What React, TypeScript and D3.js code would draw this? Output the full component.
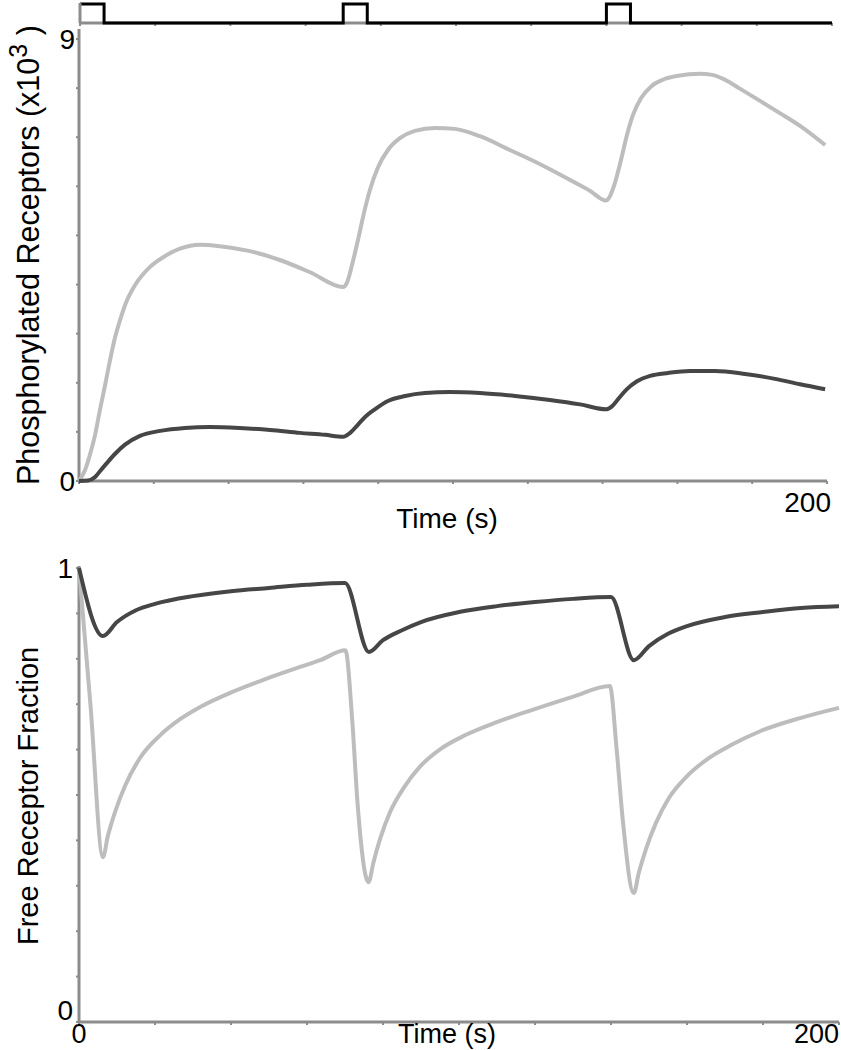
import React from "react";
import * as d3 from "d3";

// ---------- DATA ----------
// stimulus step train (time s, level)
const stimTimes = [0, 6.4, 70, 76.4, 140, 146.4, 200];
const stimLevels = [1, 0, 1, 0, 1, 0, 0];

// Phosphorylated receptors (x10^3), light series [time, value]
const phosLight: [number, number][] = [
  [0, 0], [1.6, 0.22], [2.9, 0.53], [4.3, 0.94], [5.6, 1.45], [7.0, 1.96], [8.3, 2.46], [9.6, 2.91],
  [11.0, 3.28], [12.3, 3.58], [15.0, 3.99], [19.0, 4.36], [23.0, 4.58], [27.0, 4.73], [32.4, 4.81],
  [37.7, 4.78], [45.7, 4.68], [53.7, 4.5], [61.8, 4.25], [70.6, 3.95],
  [71.7, 4.05], [73.0, 4.4], [74.6, 4.91], [76.2, 5.46], [77.8, 5.93], [79.9, 6.38], [82.6, 6.74],
  [85.8, 6.98], [89.8, 7.13], [95.2, 7.19], [100.5, 7.17], [107.2, 7.02], [115.2, 6.74], [123.3, 6.45],
  [131.3, 6.13], [136.6, 5.91], [140.9, 5.71],
  [141.9, 5.79], [143.3, 6.07], [144.9, 6.53], [146.5, 7.04], [148.1, 7.45], [150.3, 7.8], [152.9, 8.03],
  [156.1, 8.17], [160.2, 8.25], [166.0, 8.29], [169.3, 8.27], [172.7, 8.17], [176.7, 7.99], [182.1, 7.74],
  [187.4, 7.49], [192.8, 7.23], [199.5, 6.84],
];

// Phosphorylated receptors (x10^3), dark series
const phosDark: [number, number][] = [
  [0, 0], [2.4, 0.01], [4.3, 0.08], [5.6, 0.2], [7.5, 0.37], [9.6, 0.55], [12.3, 0.74], [16.3, 0.92],
  [21.7, 1.02], [28.3, 1.08], [35.0, 1.1], [43.0, 1.08], [51.1, 1.04], [59.1, 0.98], [65.8, 0.94], [70.6, 0.9],
  [72.5, 0.98], [74.6, 1.15], [76.7, 1.32], [79.1, 1.46], [82.6, 1.63], [87.2, 1.73], [92.5, 1.79], [99.2, 1.81],
  [107.2, 1.79], [116.6, 1.73], [125.9, 1.65], [134.0, 1.56], [140.9, 1.46],
  [142.5, 1.52], [144.4, 1.69], [146.5, 1.87], [149.2, 2.03], [152.7, 2.14], [157.5, 2.2], [163.4, 2.24],
  [170.1, 2.24], [178.1, 2.18], [186.1, 2.08], [192.8, 1.97], [199.5, 1.87],
];

// Free receptor fraction, light series
const freeLight: [number, number][] = [
  [0, 1.0], [3, 0.7], [6.3, 0.363], [7.6, 0.41], [9.5, 0.463], [12.1, 0.52], [16.1, 0.582], [21.4, 0.632],
  [26.6, 0.667], [31.9, 0.694], [39.8, 0.725], [47.7, 0.751], [58.2, 0.782], [63.5, 0.797], [70.1, 0.819],
  [71.9, 0.665], [73.3, 0.482], [76.2, 0.308], [77.5, 0.352], [79.3, 0.405], [81.9, 0.463], [85.4, 0.515],
  [89.9, 0.564], [95.1, 0.601], [101.7, 0.632], [110.1, 0.661], [119.9, 0.689], [129.9, 0.716], [139.7, 0.74],
  [141.5, 0.599], [143.1, 0.445], [146.0, 0.284], [147.3, 0.328], [149.2, 0.381], [151.8, 0.438],
  [155.2, 0.493], [159.7, 0.539], [165.0, 0.577], [171.6, 0.61], [179.4, 0.641], [190.0, 0.67], [200, 0.692],
];

// Free receptor fraction, dark series
const freeDark: [number, number][] = [
  [0, 1.0], [6.3, 0.85], [10, 0.881], [15, 0.907], [20, 0.921], [30, 0.938], [40, 0.949], [50, 0.956],
  [60, 0.963], [70, 0.967],
  [76.3, 0.815], [80, 0.841], [85, 0.863], [90, 0.881], [100, 0.903], [110, 0.916], [120, 0.925],
  [130, 0.932], [140, 0.936],
  [146, 0.797], [150, 0.828], [155, 0.855], [160, 0.872], [170, 0.892], [180, 0.903], [190, 0.912], [200, 0.916],
];

const xTicks = [0, 20, 40, 60, 80, 100, 120, 140, 160, 180, 200];
const phosTicks = [0, 1, 2, 3, 4, 5, 6, 7, 8, 9];
const freeTicks = [0, 0.1, 0.2, 0.3, 0.4, 0.5, 0.6, 0.7, 0.8, 0.9, 1];

// ---------- STYLE ----------
const AXIS = "#8c8c8c";
const LIGHT = "#bdbdbd";
const DARK = "#464646";
const FONT = "'Liberation Sans', Arial, sans-serif";

export default function App() {
  const W = 841, H = 1050;

  // strip
  const xS = d3.scaleLinear().domain([0, 200]).range([80, 832]);
  const yS = d3.scaleLinear().domain([0, 1]).range([23, 4]);
  // top
  const xT = d3.scaleLinear().domain([0, 200]).range([79, 827]);
  const yT = d3.scaleLinear().domain([0, 9]).range([481, 39]);
  // bottom
  const xB = d3.scaleLinear().domain([0, 200]).range([79, 839]);
  const yB = d3.scaleLinear().domain([0, 1]).range([1022, 568]);

  const stimLine = d3
    .line<number>()
    .x((_, i) => xS(stimTimes[i]))
    .y((d) => yS(d))
    .curve(d3.curveStepAfter);

  const topLine = d3
    .line<[number, number]>()
    .x((d) => xT(d[0]))
    .y((d) => yT(d[1]))
    .curve(d3.curveMonotoneX);
  const botLine = d3
    .line<[number, number]>()
    .x((d) => xB(d[0]))
    .y((d) => yB(d[1]))
    .curve(d3.curveMonotoneX);

  const txt = { fontFamily: FONT, fill: "#000" } as const;

  return (
    <svg width={W} height={H} style={{ position: "absolute", left: 0, top: 0, background: "#fff" }}>
      {/* ----- stimulus strip ----- */}
      <line x1={xS(0)} x2={xS(200)} y1={yS(0)} y2={yS(0)} stroke={AXIS} strokeWidth={3} />
      {xTicks.map((t) => (
        <line key={"st" + t} x1={xS(t)} x2={xS(t)} y1={yS(0)} y2={yS(0) + 3} stroke={AXIS} strokeWidth={2} />
      ))}
      <path d={stimLine(stimLevels) || ""} fill="none" stroke="#000" strokeWidth={3} />
      <line x1={xS(0)} x2={xS(0)} y1={yS(1) - 1} y2={yS(0)} stroke={AXIS} strokeWidth={3} />

      {/* ----- top panel ----- */}
      <line x1={xT(0)} x2={xT(0)} y1={29} y2={yT(0)} stroke={AXIS} strokeWidth={3} />
      <line x1={xT(0)} x2={xT(200)} y1={yT(0)} y2={yT(0)} stroke={AXIS} strokeWidth={3} />
      {phosTicks.map((v) => (
        <line key={"pt" + v} x1={xT(0) - 3} x2={xT(0)} y1={yT(v)} y2={yT(v)} stroke={AXIS} strokeWidth={2} />
      ))}
      {xTicks.map((t) => (
        <line key={"tx" + t} x1={xT(t)} x2={xT(t)} y1={yT(0)} y2={yT(0) + 3} stroke={AXIS} strokeWidth={2} />
      ))}
      <path d={topLine(phosLight) || ""} fill="none" stroke={LIGHT} strokeWidth={4} strokeLinejoin="round" />
      <path d={topLine(phosDark) || ""} fill="none" stroke={DARK} strokeWidth={4} strokeLinejoin="round" />

      <text x={75} y={yT(9) + 10} textAnchor="end" fontSize={28} {...txt}>9</text>
      <text x={75} y={yT(0) + 10} textAnchor="end" fontSize={28} {...txt}>0</text>
      <text x={xT(200) + 4} y={512} textAnchor="end" fontSize={28} {...txt}>200</text>
      <text x={447} y={528} textAnchor="middle" fontSize={28} {...txt}>Time (s)</text>
      <text transform={`translate(39,485) rotate(-90)`} fontSize={30.5} {...txt}>
        Phosphorylated Receptors (x10
        <tspan dy={-12} fontSize={25}>3</tspan>
        <tspan dy={12}> )</tspan>
      </text>

      {/* ----- bottom panel ----- */}
      <line x1={xB(0)} x2={xB(0)} y1={yB(1) - 2} y2={yB(0)} stroke={AXIS} strokeWidth={3} />
      <line x1={xB(0)} x2={xB(200)} y1={yB(0)} y2={yB(0)} stroke={AXIS} strokeWidth={3} />
      {freeTicks.map((v) => (
        <line key={"ft" + v} x1={xB(0) - 3} x2={xB(0)} y1={yB(v)} y2={yB(v)} stroke={AXIS} strokeWidth={2} />
      ))}
      {xTicks.map((t) => (
        <line key={"bx" + t} x1={xB(t)} x2={xB(t)} y1={yB(0)} y2={yB(0) + 3} stroke={AXIS} strokeWidth={2} />
      ))}
      <path d={botLine(freeLight) || ""} fill="none" stroke={LIGHT} strokeWidth={4} strokeLinejoin="round" />
      <path d={botLine(freeDark) || ""} fill="none" stroke={DARK} strokeWidth={4} strokeLinejoin="round" />

      <text x={73} y={yB(1) + 10} textAnchor="end" fontSize={28} {...txt}>1</text>
      <text x={73} y={1020} textAnchor="end" fontSize={28} {...txt}>0</text>
      <text x={xB(0)} y={1043} textAnchor="middle" fontSize={27} {...txt}>0</text>
      <text x={447} y={1043} textAnchor="middle" fontSize={27} {...txt}>Time (s)</text>
      <text x={xB(200)} y={1043} textAnchor="end" fontSize={27} {...txt}>200</text>
      <text transform={`translate(38,945) rotate(-90)`} fontSize={29} {...txt}>
        Free Receptor Fraction
      </text>
    </svg>
  );
}
